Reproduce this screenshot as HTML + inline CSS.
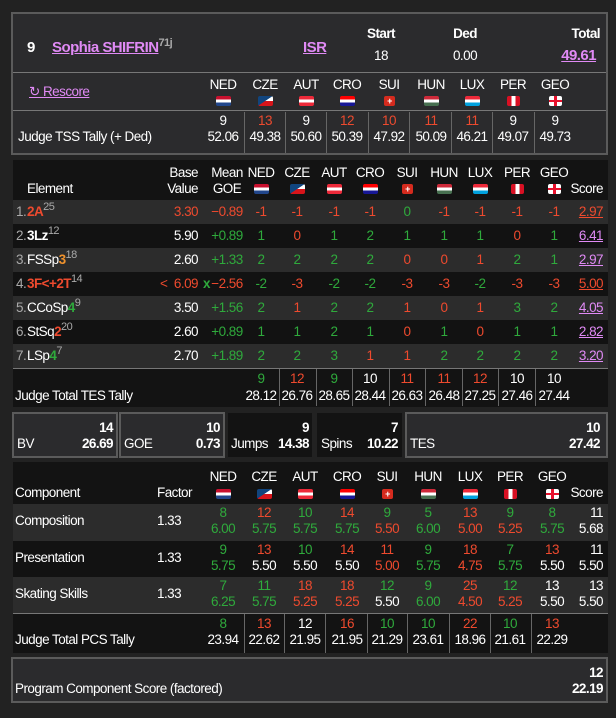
<!DOCTYPE html>
<html><head><meta charset="utf-8"><style>
*{margin:0;padding:0;box-sizing:border-box}
body{width:616px;height:718px;background:#222;font-family:"Liberation Sans",Arial,sans-serif;font-size:13.5px;letter-spacing:-0.55px;color:#fff;position:relative;overflow:hidden}
.a{position:absolute;white-space:nowrap}
.c{position:absolute;width:44px;margin-left:-22px;text-align:center;white-space:nowrap}
.r{position:absolute;text-align:right;white-space:nowrap}
.g{color:#2faa3c}.d{color:#ee4a2e}.w{color:#fff}.p{color:#e08af5;text-decoration:underline}.o{color:#f0922c}.s{color:#aaa}
.row{position:absolute;left:13px;width:595px;height:24px;line-height:24px}
.row>*{top:0}
.l1{background:#2c2c2c}.l2{background:#121212}
.f{position:absolute;width:15px;height:10px;margin-left:-7px;border-radius:2px;overflow:hidden}
.vl{position:absolute;width:1px;background:#666}
sup{font-size:11px;color:#aaa;vertical-align:6px;line-height:0}
b{font-weight:bold}
</style></head><body>
<div class="a" style="left:11px;top:12px;width:597px;height:143px;background:#2b2b2d;border:2px solid #5b5b5b"></div>
<div class="a" style="left:13px;top:72px;width:593px;height:1px;background:#777"></div>
<div class="a" style="left:13px;top:110px;width:593px;height:1px;background:#777"></div>
<div class="a" style="left:27px;top:39px;font-weight:bold;font-size:15px">9</div>
<div class="a" style="left:52px;top:39px;font-weight:bold;font-size:15px"><span class="p">Sophia SHIFRIN</span><sup>71j</sup></div>
<div class="a p" style="left:303px;top:39px;font-weight:bold;font-size:15px">ISR</div>
<div class="c" style="left:381px;top:26px;font-weight:bold">Start</div>
<div class="c" style="left:381px;top:48px">18</div>
<div class="c" style="left:465px;top:26px;font-weight:bold">Ded</div>
<div class="c" style="left:465px;top:48px">0.00</div>
<div class="r" style="right:16px;top:26px;font-weight:bold">Total</div>
<div class="r p" style="right:20px;top:47px;font-weight:bold;font-size:15px">49.61</div>
<div class="a p" style="left:29px;top:84px">↻ Rescore</div>
<div class="c" style="left:223px;top:77px">NED</div><div class="c" style="left:265px;top:77px">CZE</div><div class="c" style="left:306px;top:77px">AUT</div><div class="c" style="left:347px;top:77px">CRO</div><div class="c" style="left:389px;top:77px">SUI</div><div class="c" style="left:431px;top:77px">HUN</div><div class="c" style="left:472px;top:77px">LUX</div><div class="c" style="left:513px;top:77px">PER</div><div class="c" style="left:555px;top:77px">GEO</div>
<div class="f" style="left:223px;top:96px;background:linear-gradient(#c8102e 33%,#fff 33% 66%,#21468b 66%)"></div>
<div class="f" style="left:265px;top:96px;background:linear-gradient(to bottom right,#11457e 48%,transparent 50%),linear-gradient(#fff 50%,#d7141a 50%)"></div>
<div class="f" style="left:306px;top:96px;background:linear-gradient(#ed2939 33%,#fff 33% 66%,#ed2939 66%)"></div>
<div class="f" style="left:347px;top:96px;background:linear-gradient(#f00 33%,#fff 33% 66%,#171796 66%)"></div>
<div class="f" style="left:389px;top:96px;width:11px;margin-left:-5px;background:#d52b1e;color:#fff;font-size:9px;line-height:10px;text-align:center;font-weight:bold">+</div>
<div class="f" style="left:431px;top:96px;background:linear-gradient(#ce2939 33%,#fff 33% 66%,#477050 66%)"></div>
<div class="f" style="left:472px;top:96px;background:linear-gradient(#ed2939 33%,#fff 33% 66%,#00a1de 66%)"></div>
<div class="f" style="left:513px;top:96px;width:13px;margin-left:-6px;background:linear-gradient(90deg,#d91023 33%,#fff 33% 66%,#d91023 66%)"></div>
<div class="f" style="left:555px;top:96px;width:13px;margin-left:-6px;background:linear-gradient(transparent 40%,#e8112d 40% 60%,transparent 60%),linear-gradient(90deg,#fff 40%,#e8112d 40% 60%,#fff 60%)"></div>
<div class="a" style="left:18px;top:129px">Judge TSS Tally (+ Ded)</div>
<div class="vl" style="left:244px;top:112px;height:41px"></div><div class="vl" style="left:285px;top:112px;height:41px"></div><div class="vl" style="left:326px;top:112px;height:41px"></div><div class="vl" style="left:368px;top:112px;height:41px"></div><div class="vl" style="left:409px;top:112px;height:41px"></div><div class="vl" style="left:451px;top:112px;height:41px"></div><div class="vl" style="left:492px;top:112px;height:41px"></div><div class="vl" style="left:534px;top:112px;height:41px"></div>
<div class="c w" style="left:223px;top:113px">9</div><div class="c d" style="left:265px;top:113px">13</div><div class="c w" style="left:306px;top:113px">9</div><div class="c d" style="left:347px;top:113px">12</div><div class="c d" style="left:389px;top:113px">10</div><div class="c d" style="left:431px;top:113px">11</div><div class="c d" style="left:472px;top:113px">11</div><div class="c w" style="left:513px;top:113px">9</div><div class="c w" style="left:555px;top:113px">9</div>
<div class="c" style="left:223px;top:129px">52.06</div><div class="c" style="left:265px;top:129px">49.38</div><div class="c" style="left:306px;top:129px">50.60</div><div class="c" style="left:347px;top:129px">50.39</div><div class="c" style="left:389px;top:129px">47.92</div><div class="c" style="left:431px;top:129px">50.09</div><div class="c" style="left:472px;top:129px">46.21</div><div class="c" style="left:513px;top:129px">49.07</div><div class="c" style="left:555px;top:129px">49.73</div>

<div class="a" style="left:13px;top:160px;width:595px;height:247px;background:#131313"></div>
<div class="a" style="left:27px;top:181px">Element</div>
<div class="r" style="right:418px;top:165px">Base</div><div class="r" style="right:418px;top:181px">Value</div>
<div class="c" style="left:227px;top:165px">Mean</div><div class="c" style="left:227px;top:181px">GOE</div>
<div class="c" style="left:261px;top:165px">NED</div><div class="c" style="left:297px;top:165px">CZE</div><div class="c" style="left:334px;top:165px">AUT</div><div class="c" style="left:370px;top:165px">CRO</div><div class="c" style="left:407px;top:165px">SUI</div><div class="c" style="left:444px;top:165px">HUN</div><div class="c" style="left:480px;top:165px">LUX</div><div class="c" style="left:517px;top:165px">PER</div><div class="c" style="left:554px;top:165px">GEO</div>
<div class="f" style="left:261px;top:184px;background:linear-gradient(#c8102e 33%,#fff 33% 66%,#21468b 66%)"></div>
<div class="f" style="left:297px;top:184px;background:linear-gradient(to bottom right,#11457e 48%,transparent 50%),linear-gradient(#fff 50%,#d7141a 50%)"></div>
<div class="f" style="left:334px;top:184px;background:linear-gradient(#ed2939 33%,#fff 33% 66%,#ed2939 66%)"></div>
<div class="f" style="left:370px;top:184px;background:linear-gradient(#f00 33%,#fff 33% 66%,#171796 66%)"></div>
<div class="f" style="left:407px;top:184px;width:11px;margin-left:-5px;background:#d52b1e;color:#fff;font-size:9px;line-height:10px;text-align:center;font-weight:bold">+</div>
<div class="f" style="left:444px;top:184px;background:linear-gradient(#ce2939 33%,#fff 33% 66%,#477050 66%)"></div>
<div class="f" style="left:480px;top:184px;background:linear-gradient(#ed2939 33%,#fff 33% 66%,#00a1de 66%)"></div>
<div class="f" style="left:517px;top:184px;width:13px;margin-left:-6px;background:linear-gradient(90deg,#d91023 33%,#fff 33% 66%,#d91023 66%)"></div>
<div class="f" style="left:554px;top:184px;width:13px;margin-left:-6px;background:linear-gradient(transparent 40%,#e8112d 40% 60%,transparent 60%),linear-gradient(90deg,#fff 40%,#e8112d 40% 60%,#fff 60%)"></div>
<div class="r" style="right:13px;top:181px">Score</div>

<div class="row l1" style="top:200px"><span class="a s" style="left:3px">1.</span><span class="a" style="left:14px"><b class="d">2A</b><sup>25</sup></span><span class="r d" style="right:410px">3.30</span><span class="c d" style="left:214px">−0.89</span><span class="c d" style="left:248px">-1</span><span class="c d" style="left:284px">-1</span><span class="c d" style="left:321px">-1</span><span class="c d" style="left:357px">-1</span><span class="c g" style="left:394px">0</span><span class="c d" style="left:431px">-1</span><span class="c d" style="left:467px">-1</span><span class="c d" style="left:504px">-1</span><span class="c d" style="left:541px">-1</span><span class="r d" style="right:5px;text-decoration:underline">2.97</span></div>
<div class="row l2" style="top:224px"><span class="a s" style="left:3px">2.</span><span class="a" style="left:14px"><b>3Lz</b><sup>12</sup></span><span class="r" style="right:410px">5.90</span><span class="c g" style="left:214px">+0.89</span><span class="c g" style="left:248px">1</span><span class="c d" style="left:284px">0</span><span class="c g" style="left:321px">1</span><span class="c g" style="left:357px">2</span><span class="c g" style="left:394px">1</span><span class="c g" style="left:431px">1</span><span class="c g" style="left:467px">1</span><span class="c d" style="left:504px">0</span><span class="c g" style="left:541px">1</span><span class="r p" style="right:5px">6.41</span></div>
<div class="row l1" style="top:248px"><span class="a s" style="left:3px">3.</span><span class="a" style="left:14px">FSSp<b class="o">3</b><sup>18</sup></span><span class="r" style="right:410px">2.60</span><span class="c g" style="left:214px">+1.33</span><span class="c g" style="left:248px">2</span><span class="c g" style="left:284px">2</span><span class="c g" style="left:321px">2</span><span class="c g" style="left:357px">2</span><span class="c d" style="left:394px">0</span><span class="c d" style="left:431px">0</span><span class="c d" style="left:467px">1</span><span class="c g" style="left:504px">2</span><span class="c g" style="left:541px">1</span><span class="r p" style="right:5px">2.97</span></div>
<div class="row l2" style="top:272px"><span class="a s" style="left:3px">4.</span><span class="a" style="left:14px"><b class="d">3F&lt;+2T</b><sup>14</sup></span><span class="a d" style="left:147px">&lt;</span><span class="r d" style="right:410px">6.09</span><b class="a g" style="left:190px">x</b><span class="c d" style="left:214px">−2.56</span><span class="c g" style="left:248px">-2</span><span class="c d" style="left:284px">-3</span><span class="c g" style="left:321px">-2</span><span class="c g" style="left:357px">-2</span><span class="c d" style="left:394px">-3</span><span class="c d" style="left:431px">-3</span><span class="c g" style="left:467px">-2</span><span class="c d" style="left:504px">-3</span><span class="c d" style="left:541px">-3</span><span class="r d" style="right:5px;text-decoration:underline">5.00</span></div>
<div class="row l1" style="top:296px"><span class="a s" style="left:3px">5.</span><span class="a" style="left:14px">CCoSp<b class="g">4</b><sup>9</sup></span><span class="r" style="right:410px">3.50</span><span class="c g" style="left:214px">+1.56</span><span class="c g" style="left:248px">2</span><span class="c d" style="left:284px">1</span><span class="c g" style="left:321px">2</span><span class="c g" style="left:357px">2</span><span class="c d" style="left:394px">1</span><span class="c d" style="left:431px">0</span><span class="c d" style="left:467px">1</span><span class="c g" style="left:504px">3</span><span class="c g" style="left:541px">2</span><span class="r p" style="right:5px">4.05</span></div>
<div class="row l2" style="top:320px"><span class="a s" style="left:3px">6.</span><span class="a" style="left:14px">StSq<b class="d">2</b><sup>20</sup></span><span class="r" style="right:410px">2.60</span><span class="c g" style="left:214px">+0.89</span><span class="c g" style="left:248px">1</span><span class="c g" style="left:284px">1</span><span class="c g" style="left:321px">2</span><span class="c g" style="left:357px">1</span><span class="c d" style="left:394px">0</span><span class="c g" style="left:431px">1</span><span class="c d" style="left:467px">0</span><span class="c g" style="left:504px">1</span><span class="c g" style="left:541px">1</span><span class="r p" style="right:5px">2.82</span></div>
<div class="row l1" style="top:344px"><span class="a s" style="left:3px">7.</span><span class="a" style="left:14px">LSp<b class="g">4</b><sup>7</sup></span><span class="r" style="right:410px">2.70</span><span class="c g" style="left:214px">+1.89</span><span class="c g" style="left:248px">2</span><span class="c g" style="left:284px">2</span><span class="c g" style="left:321px">3</span><span class="c d" style="left:357px">1</span><span class="c d" style="left:394px">1</span><span class="c g" style="left:431px">2</span><span class="c g" style="left:467px">2</span><span class="c g" style="left:504px">2</span><span class="c g" style="left:541px">2</span><span class="r p" style="right:5px">3.20</span></div>
<div class="a" style="left:13px;top:368px;width:595px;height:1px;background:#777"></div>
<div class="vl" style="left:279px;top:369px;height:37px"></div><div class="vl" style="left:316px;top:369px;height:37px"></div><div class="vl" style="left:352px;top:369px;height:37px"></div><div class="vl" style="left:389px;top:369px;height:37px"></div><div class="vl" style="left:425px;top:369px;height:37px"></div><div class="vl" style="left:462px;top:369px;height:37px"></div><div class="vl" style="left:498px;top:369px;height:37px"></div><div class="vl" style="left:535px;top:369px;height:37px"></div>
<div class="a" style="left:15px;top:388px">Judge Total TES Tally</div>
<div class="c g" style="left:261px;top:371px">9</div><div class="c d" style="left:297px;top:371px">12</div><div class="c g" style="left:334px;top:371px">9</div><div class="c w" style="left:370px;top:371px">10</div><div class="c d" style="left:407px;top:371px">11</div><div class="c d" style="left:444px;top:371px">11</div><div class="c d" style="left:480px;top:371px">12</div><div class="c w" style="left:517px;top:371px">10</div><div class="c w" style="left:554px;top:371px">10</div>
<div class="c" style="left:261px;top:388px">28.12</div><div class="c" style="left:297px;top:388px">26.76</div><div class="c" style="left:334px;top:388px">28.65</div><div class="c" style="left:370px;top:388px">28.44</div><div class="c" style="left:407px;top:388px">26.63</div><div class="c" style="left:444px;top:388px">26.48</div><div class="c" style="left:480px;top:388px">27.25</div><div class="c" style="left:517px;top:388px">27.46</div><div class="c" style="left:554px;top:388px">27.44</div>

<div class="a" style="left:12px;top:412px;width:106px;height:46px;background:#2b2b2d;border:2px solid #5b5b5b"></div>
<div class="a" style="left:119px;top:412px;width:106px;height:46px;background:#2b2b2d;border:2px solid #5b5b5b"></div>
<div class="a" style="left:228px;top:413px;width:84px;height:44px;background:#131313"></div>
<div class="a" style="left:317px;top:413px;width:85px;height:44px;background:#131313"></div>
<div class="a" style="left:405px;top:412px;width:203px;height:46px;background:#2b2b2d;border:2px solid #5b5b5b"></div>
<div class="r" style="right:503px;top:420px;font-weight:bold">14</div><div class="a" style="left:17px;top:436px">BV</div><div class="r" style="right:503px;top:436px;font-weight:bold">26.69</div>
<div class="r" style="right:396px;top:420px;font-weight:bold">10</div><div class="a" style="left:124px;top:436px">GOE</div><div class="r" style="right:396px;top:436px;font-weight:bold">0.73</div>
<div class="r" style="right:307px;top:420px;font-weight:bold">9</div><div class="a" style="left:231px;top:436px">Jumps</div><div class="r" style="right:307px;top:436px;font-weight:bold">14.38</div>
<div class="r" style="right:218px;top:420px;font-weight:bold">7</div><div class="a" style="left:321px;top:436px">Spins</div><div class="r" style="right:218px;top:436px;font-weight:bold">10.22</div>
<div class="r" style="right:16px;top:420px;font-weight:bold">10</div><div class="a" style="left:410px;top:436px">TES</div><div class="r" style="right:16px;top:436px;font-weight:bold">27.42</div>

<div class="a" style="left:13px;top:462px;width:595px;height:191px;background:#131313"></div>
<div class="a" style="left:15px;top:485px">Component</div>
<div class="a" style="left:157px;top:485px">Factor</div>
<div class="c" style="left:223px;top:469px">NED</div><div class="c" style="left:264px;top:469px">CZE</div><div class="c" style="left:305px;top:469px">AUT</div><div class="c" style="left:347px;top:469px">CRO</div><div class="c" style="left:387px;top:469px">SUI</div><div class="c" style="left:428px;top:469px">HUN</div><div class="c" style="left:470px;top:469px">LUX</div><div class="c" style="left:510px;top:469px">PER</div><div class="c" style="left:552px;top:469px">GEO</div>
<div class="f" style="left:223px;top:489px;background:linear-gradient(#c8102e 33%,#fff 33% 66%,#21468b 66%)"></div>
<div class="f" style="left:264px;top:489px;background:linear-gradient(to bottom right,#11457e 48%,transparent 50%),linear-gradient(#fff 50%,#d7141a 50%)"></div>
<div class="f" style="left:305px;top:489px;background:linear-gradient(#ed2939 33%,#fff 33% 66%,#ed2939 66%)"></div>
<div class="f" style="left:347px;top:489px;background:linear-gradient(#f00 33%,#fff 33% 66%,#171796 66%)"></div>
<div class="f" style="left:387px;top:489px;width:11px;margin-left:-5px;background:#d52b1e;color:#fff;font-size:9px;line-height:10px;text-align:center;font-weight:bold">+</div>
<div class="f" style="left:428px;top:489px;background:linear-gradient(#ce2939 33%,#fff 33% 66%,#477050 66%)"></div>
<div class="f" style="left:470px;top:489px;background:linear-gradient(#ed2939 33%,#fff 33% 66%,#00a1de 66%)"></div>
<div class="f" style="left:510px;top:489px;width:13px;margin-left:-6px;background:linear-gradient(90deg,#d91023 33%,#fff 33% 66%,#d91023 66%)"></div>
<div class="f" style="left:552px;top:489px;width:13px;margin-left:-6px;background:linear-gradient(transparent 40%,#e8112d 40% 60%,transparent 60%),linear-gradient(90deg,#fff 40%,#e8112d 40% 60%,#fff 60%)"></div>
<div class="r" style="right:13px;top:485px">Score</div>

<div class="a" style="left:13px;top:504px;width:595px;height:37px;background:#2c2c2c"></div>
<div class="a" style="left:13px;top:541px;width:595px;height:36px;background:#121212"></div>
<div class="a" style="left:13px;top:577px;width:595px;height:36px;background:#2c2c2c"></div>
<div class="a" style="left:15px;top:513px">Composition</div><div class="a" style="left:157px;top:513px">1.33</div>
<div class="a" style="left:15px;top:550px">Presentation</div><div class="a" style="left:157px;top:550px">1.33</div>
<div class="a" style="left:15px;top:586px">Skating Skills</div><div class="a" style="left:157px;top:586px">1.33</div>

<div class="c g" style="left:223px;top:505px">8</div><div class="c d" style="left:264px;top:505px">12</div><div class="c g" style="left:305px;top:505px">10</div><div class="c d" style="left:347px;top:505px">14</div><div class="c g" style="left:387px;top:505px">9</div><div class="c g" style="left:428px;top:505px">5</div><div class="c d" style="left:470px;top:505px">13</div><div class="c g" style="left:510px;top:505px">9</div><div class="c g" style="left:552px;top:505px">8</div><div class="r" style="right:13px;top:505px">11</div>
<div class="c g" style="left:223px;top:521px">6.00</div><div class="c g" style="left:264px;top:521px">5.75</div><div class="c g" style="left:305px;top:521px">5.75</div><div class="c g" style="left:347px;top:521px">5.75</div><div class="c d" style="left:387px;top:521px">5.50</div><div class="c g" style="left:428px;top:521px">6.00</div><div class="c d" style="left:470px;top:521px">5.00</div><div class="c d" style="left:510px;top:521px">5.25</div><div class="c g" style="left:552px;top:521px">5.75</div><div class="r" style="right:13px;top:521px">5.68</div>

<div class="c g" style="left:223px;top:542px">9</div><div class="c d" style="left:264px;top:542px">13</div><div class="c g" style="left:305px;top:542px">10</div><div class="c d" style="left:347px;top:542px">14</div><div class="c d" style="left:387px;top:542px">11</div><div class="c g" style="left:428px;top:542px">9</div><div class="c d" style="left:470px;top:542px">18</div><div class="c g" style="left:510px;top:542px">7</div><div class="c d" style="left:552px;top:542px">13</div><div class="r" style="right:13px;top:542px">11</div>
<div class="c g" style="left:223px;top:558px">5.75</div><div class="c" style="left:264px;top:558px">5.50</div><div class="c" style="left:305px;top:558px">5.50</div><div class="c" style="left:347px;top:558px">5.50</div><div class="c d" style="left:387px;top:558px">5.00</div><div class="c g" style="left:428px;top:558px">5.75</div><div class="c d" style="left:470px;top:558px">4.75</div><div class="c g" style="left:510px;top:558px">5.75</div><div class="c" style="left:552px;top:558px">5.50</div><div class="r" style="right:13px;top:558px">5.50</div>

<div class="c g" style="left:223px;top:578px">7</div><div class="c g" style="left:264px;top:578px">11</div><div class="c d" style="left:305px;top:578px">18</div><div class="c d" style="left:347px;top:578px">18</div><div class="c g" style="left:387px;top:578px">12</div><div class="c g" style="left:428px;top:578px">9</div><div class="c d" style="left:470px;top:578px">25</div><div class="c g" style="left:510px;top:578px">12</div><div class="c" style="left:552px;top:578px">13</div><div class="r" style="right:13px;top:578px">13</div>
<div class="c g" style="left:223px;top:594px">6.25</div><div class="c g" style="left:264px;top:594px">5.75</div><div class="c d" style="left:305px;top:594px">5.25</div><div class="c d" style="left:347px;top:594px">5.25</div><div class="c" style="left:387px;top:594px">5.50</div><div class="c g" style="left:428px;top:594px">6.00</div><div class="c d" style="left:470px;top:594px">4.50</div><div class="c d" style="left:510px;top:594px">5.25</div><div class="c" style="left:552px;top:594px">5.50</div><div class="r" style="right:13px;top:594px">5.50</div>

<div class="a" style="left:13px;top:613px;width:595px;height:1px;background:#777"></div>
<div class="vl" style="left:244px;top:614px;height:39px"></div><div class="vl" style="left:284px;top:614px;height:39px"></div><div class="vl" style="left:325px;top:614px;height:39px"></div><div class="vl" style="left:367px;top:614px;height:39px"></div><div class="vl" style="left:407px;top:614px;height:39px"></div><div class="vl" style="left:449px;top:614px;height:39px"></div><div class="vl" style="left:490px;top:614px;height:39px"></div><div class="vl" style="left:531px;top:614px;height:39px"></div>
<div class="a" style="left:15px;top:632px">Judge Total PCS Tally</div>
<div class="c g" style="left:223px;top:616px">8</div><div class="c d" style="left:264px;top:616px">13</div><div class="c w" style="left:305px;top:616px">12</div><div class="c d" style="left:347px;top:616px">16</div><div class="c g" style="left:387px;top:616px">10</div><div class="c g" style="left:428px;top:616px">10</div><div class="c d" style="left:470px;top:616px">22</div><div class="c g" style="left:510px;top:616px">10</div><div class="c d" style="left:552px;top:616px">13</div>
<div class="c" style="left:223px;top:632px">23.94</div><div class="c" style="left:264px;top:632px">22.62</div><div class="c" style="left:305px;top:632px">21.95</div><div class="c" style="left:347px;top:632px">21.95</div><div class="c" style="left:387px;top:632px">21.29</div><div class="c" style="left:428px;top:632px">23.61</div><div class="c" style="left:470px;top:632px">18.96</div><div class="c" style="left:510px;top:632px">21.61</div><div class="c" style="left:552px;top:632px">22.29</div>

<div class="a" style="left:11px;top:657px;width:597px;height:46px;background:#2b2b2d;border:2px solid #5b5b5b"></div>
<div class="r" style="right:13px;top:665px;font-weight:bold">12</div>
<div class="a" style="left:15px;top:681px">Program Component Score (factored)</div>
<div class="r" style="right:13px;top:681px;font-weight:bold">22.19</div>
</body></html>
